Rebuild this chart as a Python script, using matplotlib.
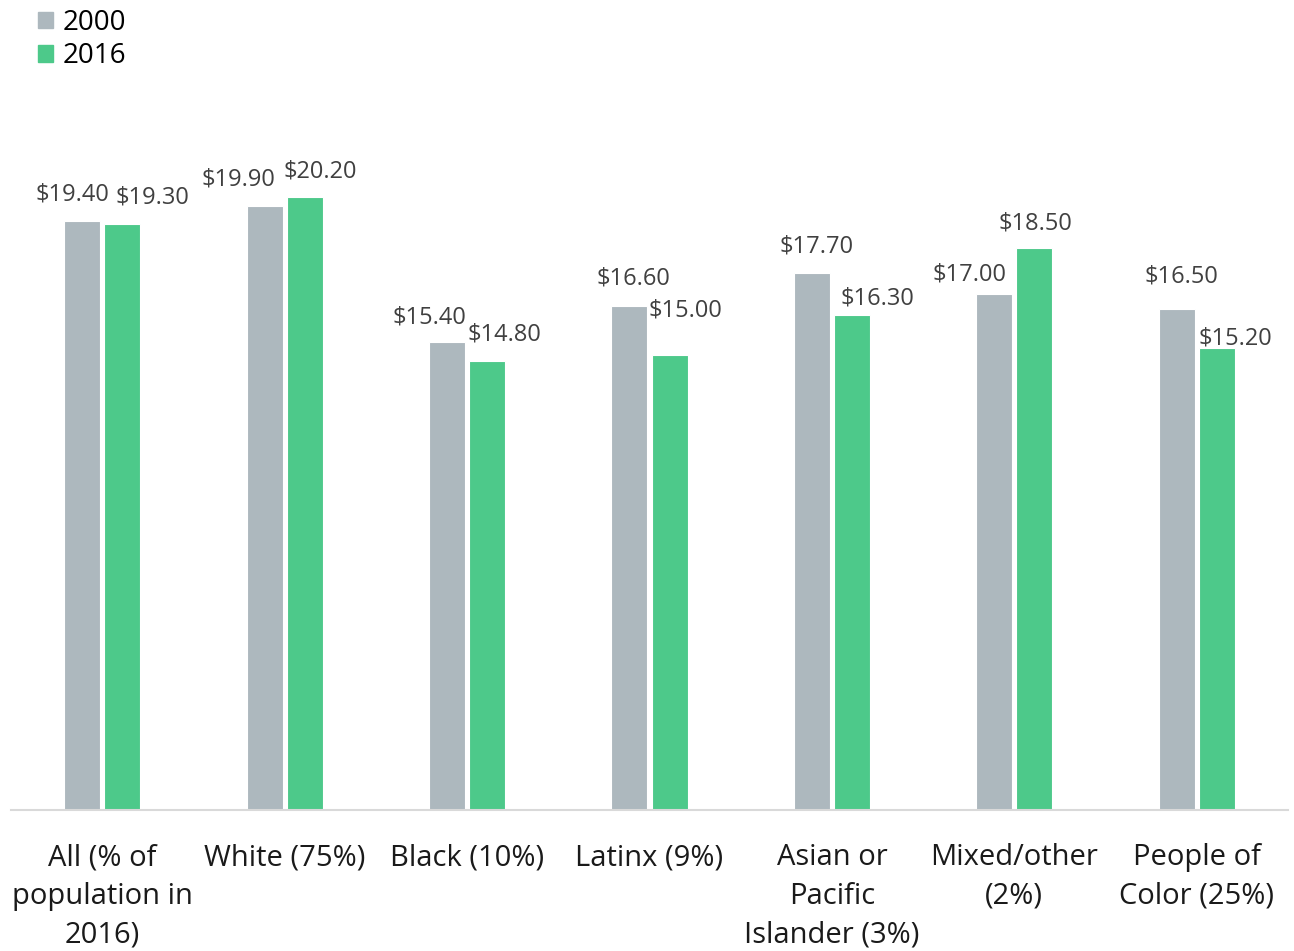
import numpy as np
import matplotlib.pyplot as plt
from matplotlib.patches import Patch

plt.rcParams['font.family'] = ['Open Sans', 'DejaVu Sans']

groups = ['All (% of\npopulation in\n2016)', 'White (75%)', 'Black (10%)', 'Latinx (9%)',
          'Asian or\nPacific\nIslander (3%)', 'Mixed/other\n(2%)', 'People of\nColor (25%)']
wage_2000 = [19.40, 19.90, 15.40, 16.60, 17.70, 17.00, 16.50]
wage_2016 = [19.30, 20.20, 14.80, 15.00, 16.30, 18.50, 15.20]

# label nudges in pixels (dx, dy from bar top), keeps labels from colliding
off_2000 = [(-10, 26), (-26, 26), (-18, 25), (4, 27), (5, 26), (-25, 19), (5, 33)]
off_2016 = [(30, 26), (16, 25), (17, 26), (16, 44), (25, 17), (1, 25), (19, 10)]

c_2000 = '#adb8be'
c_2016 = '#4dc98a'

fig = plt.figure(figsize=(12.94, 9.51), dpi=100)
ax = fig.add_axes([11/1294, 141/951, 1277/1294, 668/951])

x = np.arange(len(groups))
w = 0.197
b1 = ax.bar(x - 0.11, wage_2000, w, color=c_2000, edgecolor='white', linewidth=0.8)
b2 = ax.bar(x + 0.11, wage_2016, w, color=c_2016, edgecolor='white', linewidth=0.8)

for bars, vals, offs in [(b1, wage_2000, off_2000), (b2, wage_2016, off_2016)]:
    for r, v, (dx, dy) in zip(bars, vals, offs):
        ax.annotate(f'${v:.2f}', (r.get_x() + r.get_width()/2, v),
                    xytext=(dx, dy), textcoords='offset pixels',
                    ha='center', va='center', fontsize=17, color='#404040')

ax.set_xlim(-0.5, len(groups) - 0.5)
ax.set_ylim(0, 22)
ax.set_xticks(x)
ax.set_xticklabels(groups, fontsize=21, color='#1a1a1a', linespacing=1.43)
ax.tick_params(axis='x', length=0, pad=24)
ax.set_yticks([])
for s in ['top', 'left', 'right']:
    ax.spines[s].set_visible(False)
ax.spines['bottom'].set_color('#d9d9d9')
ax.spines['bottom'].set_linewidth(1.5)

handles = [Patch(color=c_2000), Patch(color=c_2016)]
fig.legend(handles, ['2000', '2016'], loc='upper left', bbox_to_anchor=(0.01, 1.017),
           frameon=False, fontsize=20, handlelength=0.55, handleheight=0.55,
           handletextpad=0.35, labelspacing=0.2)

fig.savefig('out.png', dpi=100)
